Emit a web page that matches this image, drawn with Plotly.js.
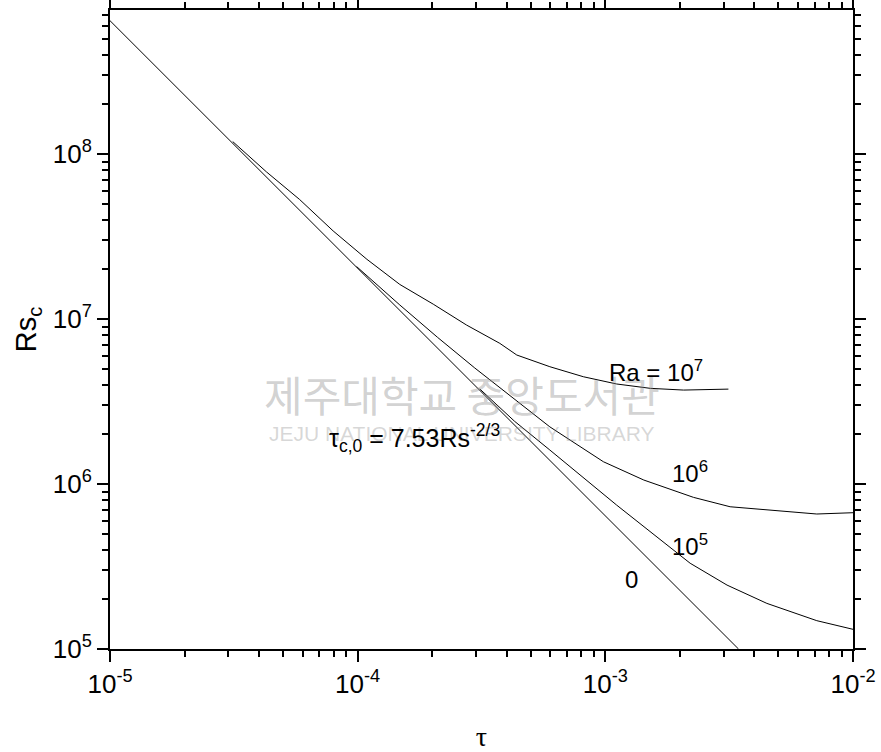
<!DOCTYPE html>
<html>
<head>
<meta charset="utf-8">
<script src="https://cdn.plot.ly/plotly-3.0.1.min.js"></script>
<style>html,body{margin:0;padding:0;background:#fff;}#chart{width:881px;height:752px;}</style>
</head>
<body>
<div id="chart"></div>
<script>
// Conduction limit (Ra = 0): tau_c,0 = 7.53 Rs^(-2/3)
const tau0 = [1e-5, 3.45e-3];
const rs0  = [6.43e8, 1e5];

// Ra = 1e7
const tau7 = [3.13e-5, 4.28e-5, 5.83e-5, 7.96e-5, 1.09e-4, 1.48e-4, 2.02e-4, 2.75e-4, 3.75e-4, 4.39e-4, 5.97e-4, 8.15e-4, 1.11e-3, 1.52e-3, 2.07e-3, 3.14e-3];
const rs7  = [1.19e8, 7.8e7, 5.3e7, 3.42e7, 2.3e7, 1.62e7, 1.23e7, 9.2e6, 7.12e6, 6.05e6, 5.14e6, 4.47e6, 4.04e6, 3.80e6, 3.71e6, 3.76e6];

// Ra = 1e6
const tau6 = [9.9e-5, 1.48e-4, 2.1e-4, 2.97e-4, 5.97e-4, 9.82e-4, 1.43e-3, 2.27e-3, 3.19e-3, 7.14e-3, 1e-2];
const rs6  = [2.08e7, 1.216e7, 7.75e6, 5.05e6, 2.22e6, 1.365e6, 1.057e6, 8.3e5, 7.28e5, 6.58e5, 6.7e5];

// Ra = 1e5
const tau5 = [3.11e-4, 4.3e-4, 5.97e-4, 1.11e-3, 2.20e-3, 3.10e-3, 4.49e-3, 7.14e-3, 1e-2];
const rs5  = [3.77e6, 2.4e6, 1.607e6, 7.46e5, 3.31e5, 2.44e5, 1.89e5, 1.485e5, 1.316e5];

// Tick labels
const xTickVals = [1e-5, 1e-4, 1e-3, 1e-2];
const xTickText = ['10<sup>-5</sup>', '10<sup>-4</sup>', '10<sup>-3</sup>', '10<sup>-2</sup>'];
const yTickVals = [1e5, 1e6, 1e7, 1e8];
const yTickText = ['10<sup>5</sup>', '10<sup>6</sup>', '10<sup>7</sup>', '10<sup>8</sup>'];

// Curve labels
const labelText = ['Ra = 10<sup>7</sup>', '10<sup>6</sup>', '10<sup>5</sup>', '0', '&#964;<sub>c,0</sub> = 7.53Rs<sup>-2/3</sup>'];
const labelTau  = [1.015e-3, 1.83e-3, 1.83e-3, 1.18e-3, 7.5e-5];
const labelRs   = [4.85e6, 1.18e6, 4.27e5, 2.62e5, 1.9e6];
const labelSize = [24, 24, 24, 24, 25];

const FONT = 'Arial, "Liberation Sans", sans-serif';
const lineStyle = {color: '#000', width: 1};

const traces = [
  {x: tau0, y: rs0, mode: 'lines', line: lineStyle, name: '0'},
  {x: tau7, y: rs7, mode: 'lines', line: lineStyle, name: 'Ra=1e7'},
  {x: tau6, y: rs6, mode: 'lines', line: lineStyle, name: 'Ra=1e6'},
  {x: tau5, y: rs5, mode: 'lines', line: lineStyle, name: 'Ra=1e5'}
];

// Library watermark of the source scan (drawn first, under the labels)
const annotations = [
  {
    xref: 'paper', yref: 'paper', x: 0.474, y: 0.4, text: '제주대학교 중앙도서관',
    showarrow: false, xanchor: 'center', yanchor: 'middle',
    font: {family: '"Noto Sans CJK KR", sans-serif', size: 42, color: 'rgba(140,140,140,0.4)'}
  },
  {
    xref: 'paper', yref: 'paper', x: 0.474, y: 0.338, text: 'JEJU NATIONAL UNIVERSITY LIBRARY',
    showarrow: false, xanchor: 'center', yanchor: 'middle',
    font: {family: FONT, size: 21, color: 'rgba(140,140,140,0.35)'}
  }
];

labelText.forEach((t, i) => annotations.push({
  x: Math.log10(labelTau[i]), y: Math.log10(labelRs[i]),
  xref: 'x', yref: 'y', text: t, showarrow: false,
  xanchor: 'left', yanchor: 'middle',
  font: {family: FONT, size: labelSize[i], color: '#000'}
}));

const axisCommon = {
  type: 'log', showgrid: false, zeroline: false,
  showline: true, linecolor: '#000', linewidth: 2, mirror: 'ticks',
  ticks: 'outside', ticklen: 11, tickwidth: 2, tickcolor: '#000',
  tickmode: 'array',
  tickfont: {family: FONT, size: 26, color: '#000'},
  minor: {ticks: 'outside', ticklen: 6, tickwidth: 2, tickcolor: '#000', tickmode: 'linear', dtick: 'D1', showgrid: false}
};

const layout = {
  width: 881, height: 752,
  margin: {l: 110, r: 28, t: 10, b: 103},
  paper_bgcolor: '#fff', plot_bgcolor: '#fff',
  showlegend: false,
  font: {family: FONT, color: '#000'},
  xaxis: Object.assign({}, axisCommon, {
    range: [-5, -2], tickvals: xTickVals, ticktext: xTickText,
    title: {text: '&#964;', font: {family: '"Liberation Serif", "DejaVu Serif", serif', size: 28, color: '#000'}, standoff: 30}
  }),
  yaxis: Object.assign({}, axisCommon, {
    range: [5, 8.873], tickvals: yTickVals, ticktext: yTickText,
    title: {text: 'Rs<sub>c</sub>', font: {family: FONT, size: 29, color: '#000'}, standoff: 8}
  }),
  annotations: annotations
};

Plotly.newPlot('chart', traces, layout, {displayModeBar: false, staticPlot: true});
</script>
</body>
</html>
